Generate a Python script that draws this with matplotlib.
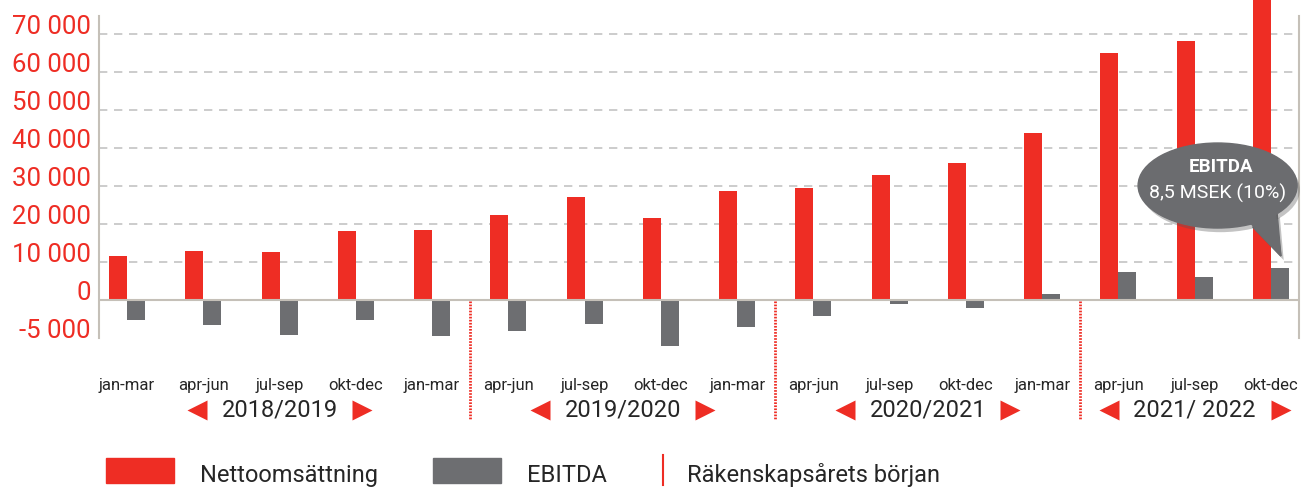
import numpy as np
import matplotlib
matplotlib.use('Agg')
import matplotlib.pyplot as plt
from matplotlib.patches import Ellipse, Polygon, Rectangle
from matplotlib.lines import Line2D
import matplotlib.patheffects as pe

plt.rcParams['font.family'] = ['Roboto', 'DejaVu Sans']

# Data (TSEK)
quarters = ['jan-mar', 'apr-jun', 'jul-sep', 'okt-dec', 'jan-mar',
            'apr-jun', 'jul-sep', 'okt-dec', 'jan-mar',
            'apr-jun', 'jul-sep', 'okt-dec', 'jan-mar',
            'apr-jun', 'jul-sep', 'okt-dec']
netsales = [11600, 12900, 12600, 18200, 18400, 22400, 27100, 21600, 28700,
            29500, 32900, 36100, 44000, 65000, 68200, 85000]
ebitda = [-5300, -6600, -9200, -5300, -9400, -8100, -6300, -12000, -7100,
          -4200, -1000, -2100, 1600, 7400, 6000, 8500]
years = ['2018/2019', '2019/2020', '2020/2021', '2021/ 2022']
year_groups = [(0, 4), (5, 8), (9, 12), (13, 15)]
# the reference puts the "-5 000" label at the lower end of the axis
ytick_pos = [-10000, 0, 10000, 20000, 30000, 40000, 50000, 60000, 70000]
ytick_lab = ['-5 000', '0', '10 000', '20 000', '30 000', '40 000',
             '50 000', '60 000', '70 000']

RED = '#ee2d24'
GREY = '#6d6e71'
TXT = '#262626'

fig = plt.figure(figsize=(13.13, 4.87), dpi=100)
W, H = 1313, 487
ax = fig.add_axes([99 / W, 1 - 350 / H, 1200 / W, 350 / H])

x = np.arange(len(quarters))
w = 0.236
ax.bar(x - w / 2, netsales, w, color=RED, zorder=3)
ax.bar(x + w / 2, ebitda, w, color=GREY, zorder=3)

ax.set_xlim(-0.367, 15.367)
ax.set_ylim(-13140, 78850)

# grid
for yv in ytick_pos:
    if yv > 0:
        ax.axhline(yv, color='#c4c4c4', lw=1.2, ls=(0, (5, 4)), zorder=1)
ax.axhline(0, color='#c5c0b8', lw=1.5, zorder=4)

for s in ['top', 'bottom']:
    ax.spines[s].set_visible(False)
for s in ['left', 'right']:
    ax.spines[s].set_color('#c5c0b8')
    ax.spines[s].set_linewidth(1.5)
    ax.spines[s].set_bounds(-10000, 74700)

ax.set_yticks(ytick_pos)
ax.set_yticklabels(ytick_lab)
ax.tick_params(axis='y', length=0, pad=6, labelsize=18.5, labelcolor=RED)
for lab in ax.get_yticklabels():
    lab.set_va('baseline')
ax.set_xticks(x)
ax.set_xticklabels(quarters)
ax.tick_params(axis='x', length=0, pad=20, labelsize=12, labelcolor=TXT)

# fiscal year separators and labels
tr = ax.get_xaxis_transform()
for a, b in year_groups[1:]:
    ax.plot([a - 0.5, a - 0.5], [0.14, -0.2], transform=tr, color=RED,
            lw=2, ls=(0, (0.6, 0.5)), clip_on=False, zorder=5)
for (a, b), label in zip(year_groups, years):
    c = (a + b) / 2
    off = 1.13 if ' ' in label else 1.08
    ax.text(c, -0.171, label, transform=tr, ha='center', va='center',
            fontsize=17, color=TXT)
    ax.plot([c - off], [-0.171], transform=tr, marker='<', ms=14,
            color=RED, clip_on=False, mec='none')
    ax.plot([c + off], [-0.171], transform=tr, marker='>', ms=14,
            color=RED, clip_on=False, mec='none')

# EBITDA callout
bub = '#6b6c6f'
shadow = [pe.SimplePatchShadow(offset=(2, -3), alpha=0.35, shadow_rgbFace='#555555'), pe.Normal()]
tail = Polygon([(14.76, 19185), (15.13, 11560), (15.08, 22860)], closed=True,
               color=bub, zorder=6, clip_on=False)
tail.set_path_effects(shadow)
ax.add_patch(tail)
ell = Ellipse((14.30, 30090), 2.085, 22340, color=bub, zorder=6, clip_on=False)
ell.set_path_effects(shadow)
ax.add_patch(ell)
ax.add_patch(Polygon([(14.72, 20500), (15.13, 11560), (15.05, 23800)], closed=True,
                     color=bub, zorder=7, clip_on=False))
ax.text(14.34, 34950, 'EBITDA', ha='center', va='center', color='white',
        fontsize=13.5, fontweight='bold', zorder=8)
ax.text(14.30, 28120, '8,5 MSEK (10%)', ha='center', va='center', color='white',
        fontsize=14, zorder=8)

# legend
fig.patches.append(Rectangle((106 / W, 1 - 483 / H), 68 / W, 25 / H,
                             transform=fig.transFigure, color=RED))
fig.text(200 / W, 1 - 482 / H, 'Nettoomsättning', fontsize=17, color=TXT, va='baseline')
fig.patches.append(Rectangle((433 / W, 1 - 483 / H), 68 / W, 25 / H,
                             transform=fig.transFigure, color=GREY))
fig.text(527 / W, 1 - 482 / H, 'EBITDA', fontsize=17, color=TXT, va='baseline')
fig.lines.append(Line2D([663 / W, 663 / W], [1 - 455 / H, 1 - 485 / H],
                        transform=fig.transFigure, color=RED, lw=1.5))
fig.text(687 / W, 1 - 482 / H, 'Räkenskapsårets början', fontsize=17, color=TXT, va='baseline')

fig.savefig('out.png', dpi=100)
